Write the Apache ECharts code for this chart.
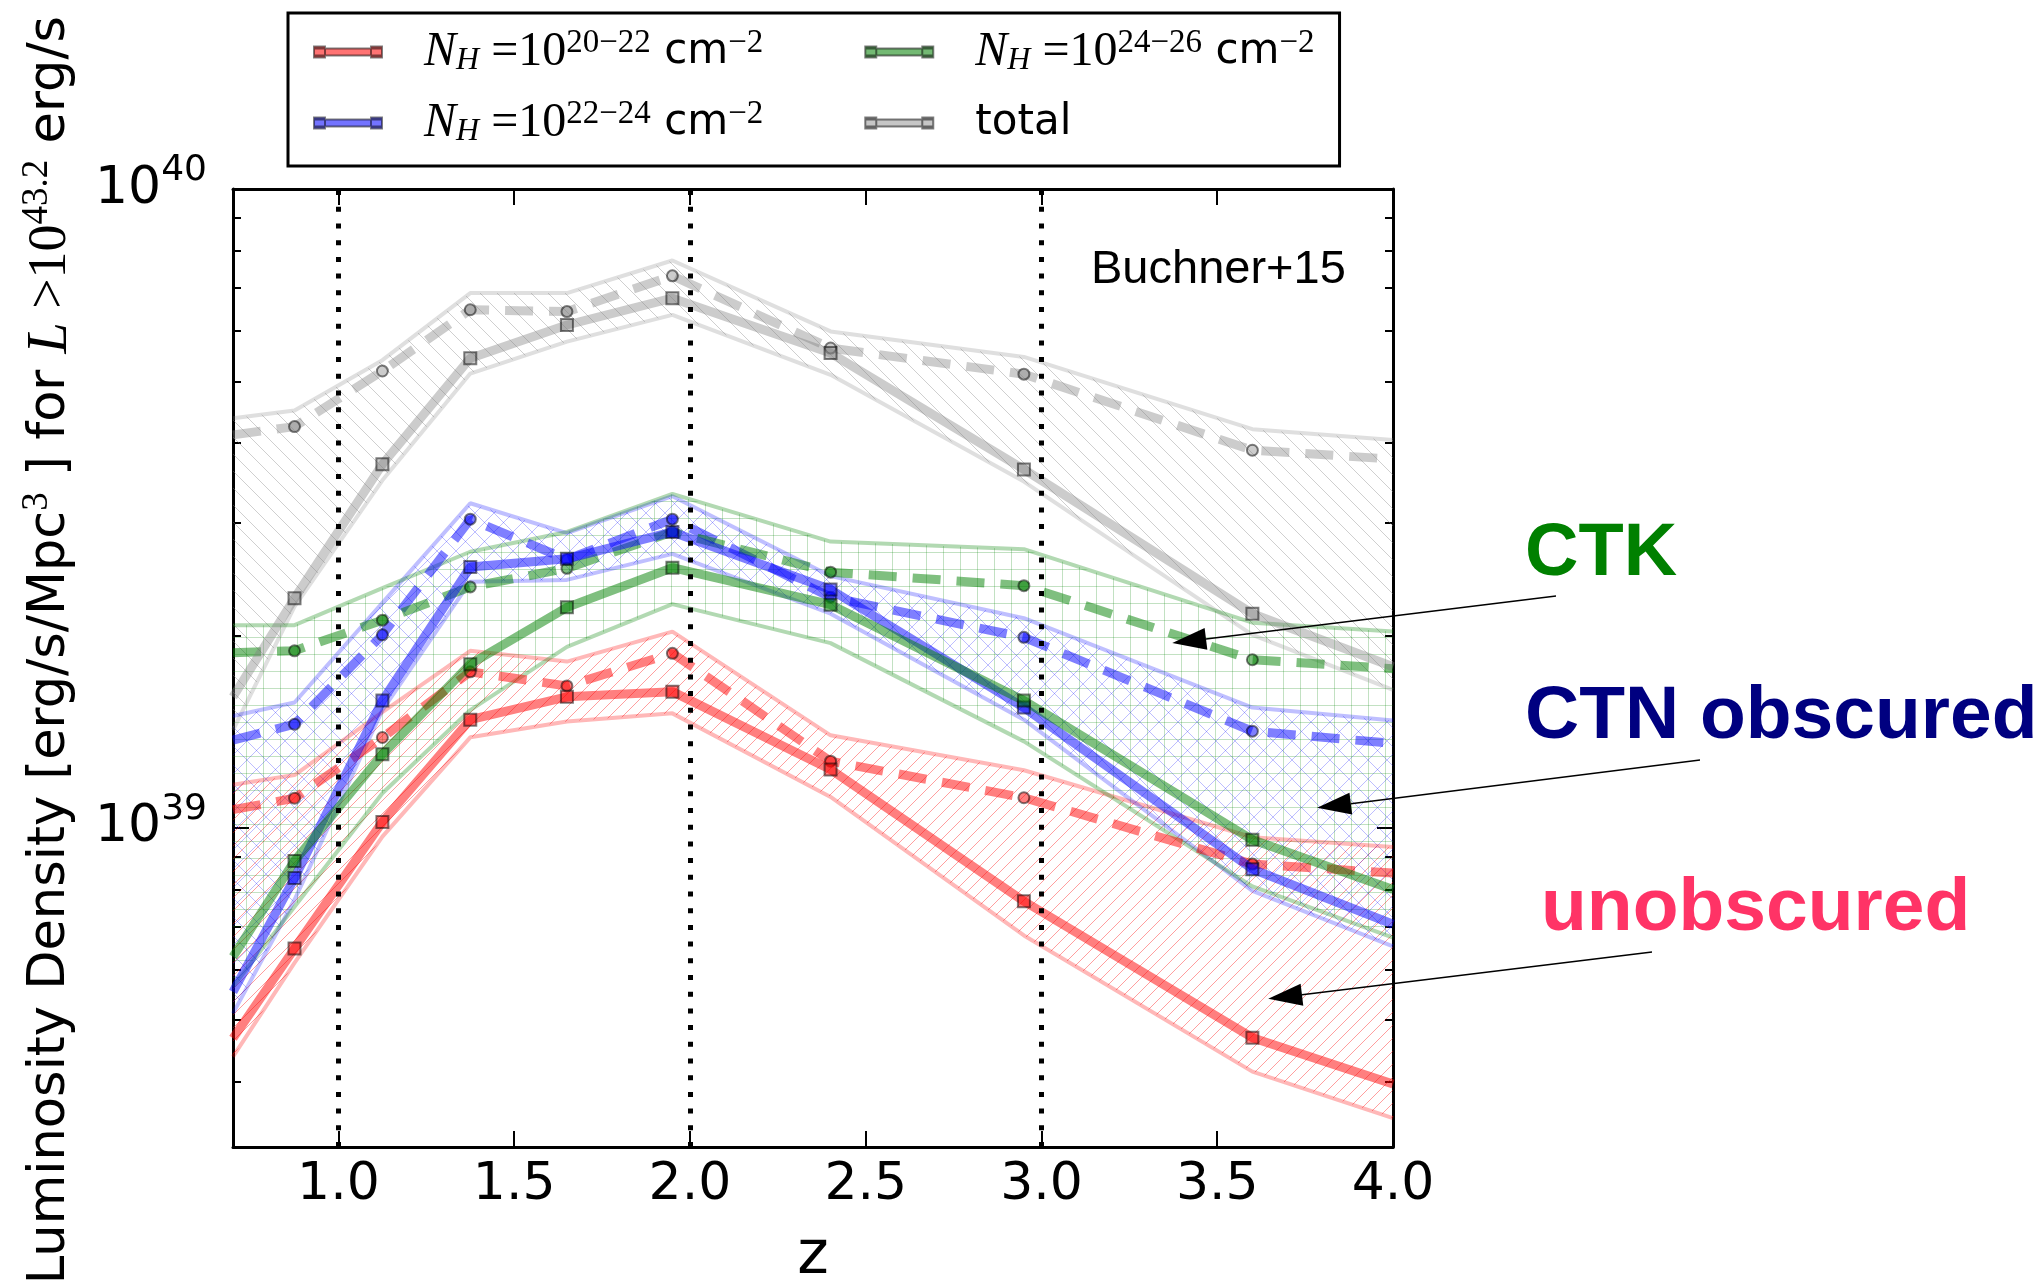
<!DOCTYPE html>
<html><head><meta charset="utf-8">
<script src="https://cdn.jsdelivr.net/npm/echarts@6/dist/echarts.min.js"></script>
<style>html,body{margin:0;padding:0;background:#fff;}#c{width:2044px;height:1280px;}</style>
</head><body><div id="c"></div>
<script>
// redshift positions (first / last = plot edges)
const z = [0.7, 0.875, 1.125, 1.375, 1.65, 1.95, 2.4, 2.95, 3.6, 4.0];
// luminosity density, units of 1e39 erg/s/Mpc^3
const redSolid  = [0.468, 0.647, 1.021, 1.476, 1.603, 1.633, 1.233, 0.767, 0.469, 0.397];
const redDash   = [1.067, 1.112, 1.384, 1.754, 1.667, 1.875, 1.271, 1.114, 0.877, 0.849];
const redUp     = [1.167, 1.209, 1.517, 1.892, 1.820, 2.028, 1.395, 1.230, 0.966, 0.933];
const redLo     = [0.438, 0.614, 0.968, 1.385, 1.466, 1.510, 1.117, 0.678, 0.415, 0.351];
const blueSolid = [0.553, 0.834, 1.581, 2.559, 2.636, 2.904, 2.360, 1.542, 0.861, 0.706];
const blueDash  = [1.371, 1.452, 2.004, 3.041, 2.630, 3.041, 2.296, 1.986, 1.416, 1.355];
const blueUp    = [1.496, 1.570, 2.249, 3.221, 2.891, 3.304, 2.477, 2.128, 1.542, 1.472];
const blueLo    = [0.512, 0.771, 1.528, 2.427, 2.443, 2.683, 2.163, 1.476, 0.796, 0.652];
const greenSolid= [0.628, 0.887, 1.303, 1.803, 2.213, 2.553, 2.234, 1.581, 0.957, 0.800];
const greenDash = [1.879, 1.892, 2.113, 2.382, 2.547, 2.904, 2.512, 2.393, 1.832, 1.774];
const greenUp   = [2.075, 2.075, 2.371, 2.704, 2.904, 3.331, 2.805, 2.729, 2.094, 2.028];
const greenLo   = [0.564, 0.752, 1.132, 1.528, 1.919, 2.239, 1.945, 1.365, 0.809, 0.673];
const greySolid = [1.603, 2.286, 3.707, 5.433, 6.124, 6.745, 5.534, 3.639, 2.163, 1.786];
const greyDash  = [4.121, 4.246, 5.188, 6.471, 6.427, 7.311, 5.636, 5.129, 3.899, 3.776];
const greyUp    = [4.375, 4.498, 5.395, 6.871, 6.871, 7.727, 5.984, 5.458, 4.207, 4.046];
const greyLo    = [1.422, 2.218, 3.499, 5.140, 5.768, 6.353, 5.117, 3.483, 2.004, 1.644];

const xTicks = [1.0, 1.5, 2.0, 2.5, 3.0, 3.5, 4.0];
const yMajor = [1e39, 1e40];
const yMinor = [4e38, 5e38, 6e38, 7e38, 8e38, 9e38, 2e39, 3e39, 4e39, 5e39, 6e39, 7e39, 8e39, 9e39];
const guideZ = [1, 2, 3];
const UNIT = 1e39;
const Y_MIN = Math.pow(10, 38.5), Y_MAX = 1e40;

function rgba(c, a) { return 'rgba(' + c[0] + ',' + c[1] + ',' + c[2] + ',' + a + ')'; }
function hatch(kind, s, color, lw) {
  const cv = document.createElement('canvas'); cv.width = s; cv.height = s;
  const g = cv.getContext('2d'); g.strokeStyle = color; g.lineWidth = lw; g.beginPath();
  if (kind === '/' || kind === 'x') { for (let k = -1; k <= 1; k++) { g.moveTo(k * s, s); g.lineTo(k * s + s, 0); } }
  if (kind === '\\' || kind === 'x') { for (let k = -1; k <= 1; k++) { g.moveTo(k * s, 0); g.lineTo(k * s + s, s); } }
  if (kind === '+') { g.moveTo(0, s / 2); g.lineTo(s, s / 2); g.moveTo(s / 2, 0); g.lineTo(s / 2, s); }
  g.stroke();
  return { image: cv, repeat: 'repeat' };
}
function pts(arr, marks) {
  return arr.map((v, i) => {
    const p = [z[i], v * UNIT];
    return (marks && (i === 0 || i === arr.length - 1)) ? { value: p, symbol: 'none' } : p;
  });
}

const comps = [
  { name: 'total', c: [128,128,128], a: 0.4, at: 0.25, solid: greySolid, dash: greyDash, up: greyUp, lo: greyLo, pat: hatch('\\', 17, 'rgba(128,128,128,0.38)', 1) },
  { name: 'NH 20-22', c: [255,0,0], a: 0.5, at: 0.28, solid: redSolid, dash: redDash, up: redUp, lo: redLo, pat: hatch('/', 13, 'rgba(255,0,0,0.38)', 1) },
  { name: 'NH 22-24', c: [0,0,255], a: 0.5, at: 0.25, solid: blueSolid, dash: blueDash, up: blueUp, lo: blueLo, pat: hatch('x', 19, 'rgba(0,0,255,0.26)', 1) },
  { name: 'NH 24-26', c: [0,128,0], a: 0.5, at: 0.3, solid: greenSolid, dash: greenDash, up: greenUp, lo: greenLo, pat: hatch('+', 17, 'rgba(0,128,0,0.24)', 1) }
];

const series = [];
comps.forEach(cp => {
  series.push({
    type: 'custom', name: cp.name + ' band', z: 1, silent: true, data: [[z[0], cp.lo[0] * UNIT]],
    renderItem: function (params, api) {
      const P = [];
      for (let i = 0; i < z.length; i++) P.push(api.coord([z[i], cp.up[i] * UNIT]));
      for (let i = z.length - 1; i >= 0; i--) P.push(api.coord([z[i], cp.lo[i] * UNIT]));
      return { type: 'polygon', shape: { points: P }, style: { fill: cp.pat, stroke: null } };
    }
  });
});
comps.forEach(cp => {
  [cp.up, cp.lo].forEach((arr, k) => series.push({
    type: 'line', name: cp.name + (k ? ' lo' : ' up'), z: 2, silent: true, showSymbol: false,
    lineStyle: { width: 4, color: rgba(cp.c, cp.at) }, data: pts(arr, false)
  }));
});
comps.forEach(cp => {
  series.push({
    type: 'line', name: cp.name + ' dashed', z: 3, silent: true, showSymbol: true, showAllSymbol: true,
    symbol: 'circle', symbolSize: 11,
    itemStyle: { color: rgba(cp.c, cp.a), borderColor: 'rgba(0,0,0,0.5)', borderWidth: 2 },
    lineStyle: { width: 9, color: rgba(cp.c, cp.a), type: [28, 16] }, data: pts(cp.dash, true)
  });
});
comps.forEach(cp => {
  series.push({
    type: 'line', name: cp.name, z: 4, silent: true, showSymbol: true, showAllSymbol: true,
    symbol: 'rect', symbolSize: 12,
    itemStyle: { color: rgba(cp.c, cp.a), borderColor: 'rgba(0,0,0,0.5)', borderWidth: 2 },
    lineStyle: { width: 9, color: rgba(cp.c, cp.a) }, data: pts(cp.solid, true)
  });
});
series.push({
  type: 'line', name: 'guides', data: [], z: 6, silent: true,
  markLine: { silent: true, animation: false, symbol: ['none', 'none'], label: { show: false },
    emphasis: { disabled: true },
    lineStyle: { color: '#000', width: 5, type: [5, 11.7], cap: 'butt', opacity: 1 },
    data: guideZ.map(v => ({ xAxis: v, lineStyle: { color: '#000', width: 5, type: [5, 11.7] } })) }
});

const LEG = {
  'NH 20-22': '{gap| }{it|N}{sub|H}{m| =10}{sup|20−22}{t| cm}{sup|−2}{pad| }',
  'NH 22-24': '{gap| }{it|N}{sub|H}{m| =10}{sup|22−24}{t| cm}{sup|−2}{pad| }',
  'NH 24-26': '{gap| }{it|N}{sub|H}{m| =10}{sup|24−26}{t| cm}{sup|−2}',
  'total': '{gap| }{t|total}'
};
const legIcon = 'path://M0,2H68V9H0Z M0,0H11V11H0Z M57,0H68V11H57Z';

const yBase = (pos, minor) => ({
  type: 'log', logBase: 10, min: Y_MIN, max: Y_MAX, position: pos, offset: 0,
  axisLine: { show: !minor, onZero: false, lineStyle: { color: '#000', width: 3 } },
  axisTick: { show: true, inside: true, length: minor ? 8 : 16, lineStyle: { color: '#000', width: 2 }, customValues: minor ? yMinor : yMajor },
  axisLabel: { show: false }, splitLine: { show: false }, minorTick: { show: false }
});
const yAxes = [yBase('left', false), yBase('left', true), yBase('right', false), yBase('right', true)];
yAxes[0].axisLabel = {
  show: true, customValues: yMajor, margin: 26,
  formatter: v => '{b|10}{s|' + Math.round(Math.log10(v)) + '}',
  rich: {
    b: { fontFamily: 'DejaVu Sans', fontSize: 52, lineHeight: 72, color: '#000' },
    s: { fontFamily: 'DejaVu Sans', fontSize: 36, lineHeight: 36, verticalAlign: 'top', color: '#000' }
  }
};
yAxes[0].name = '{sp| }{t|Luminosity Density [erg/s/Mpc}{sup|3}{t| ] for }{it|L}{m| >10}{sup|43.2}{t| erg/s}';
yAxes[0].nameLocation = 'middle';
yAxes[0].nameGap = 150;
yAxes[0].nameRotate = 90;
yAxes[0].nameTextStyle = {
  rich: {
    sp: { width: 36, fontSize: 20, lineHeight: 64 },
    t: { fontFamily: 'DejaVu Sans', fontSize: 51, lineHeight: 64, color: '#000' },
    sup: { fontFamily: 'Liberation Serif', fontSize: 37, lineHeight: 36, verticalAlign: 'top', color: '#000' },
    it: { fontFamily: 'Liberation Serif', fontStyle: 'italic', fontSize: 56, lineHeight: 64, color: '#000' },
    m: { fontFamily: 'Liberation Serif', fontSize: 54, lineHeight: 64, color: '#000' }
  }
};

const xBase = (pos, labels) => ({
  type: 'value', min: 0.7, max: 4.0, position: pos,
  axisLine: { show: true, onZero: false, lineStyle: { color: '#000', width: 3 } },
  axisTick: { show: true, inside: true, length: 16, lineStyle: { color: '#000', width: 2 }, customValues: xTicks },
  axisLabel: labels ? { show: true, customValues: xTicks, formatter: v => v.toFixed(1), margin: 12,
      fontFamily: 'DejaVu Sans', fontSize: 52, lineHeight: 52, color: '#000' } : { show: false },
  splitLine: { show: false }
});
const xAxes = [xBase('bottom', true), xBase('top', false)];
xAxes[0].name = 'z';
xAxes[0].nameLocation = 'middle';
xAxes[0].nameGap = 80;
xAxes[0].nameTextStyle = { fontFamily: 'DejaVu Sans', fontSize: 60, lineHeight: 60, color: '#000' };

const titleStyle = (size, weight, color) => ({ fontFamily: 'Liberation Sans', fontSize: size, lineHeight: size, fontWeight: weight, color: color });

const chart = echarts.init(document.getElementById('c'), null, { renderer: 'canvas', width: 2044, height: 1280 });
chart.setOption({
  animation: false,
  backgroundColor: '#fff',
  grid: { left: 233, top: 189, width: 1160, height: 958, containLabel: false, outerBoundsMode: 'none' },
  title: [
    { text: 'Buchner+15', left: 1091, top: 247, padding: 0, textStyle: titleStyle(47, 'normal', '#000') },
    { text: 'CTK', left: 1525, top: 518, padding: 0, textStyle: titleStyle(74, 'bold', '#008000') },
    { text: 'CTN obscured', left: 1525, top: 680, padding: 0, textStyle: titleStyle(75, 'bold', '#000080') },
    { text: 'unobscured', left: 1541, top: 872, padding: 0, textStyle: titleStyle(75, 'bold', '#ff3366') }
  ],
  legend: {
    data: [
      { name: 'NH 20-22', itemStyle: { color: 'rgba(255,0,0,0.55)' } },
      { name: 'NH 24-26', itemStyle: { color: 'rgba(0,128,0,0.55)' } },
      { name: 'NH 22-24', itemStyle: { color: 'rgba(0,0,255,0.55)' } },
      { name: 'total', itemStyle: { color: 'rgba(128,128,128,0.45)' } }
    ],
    formatter: n => LEG[n],
    orient: 'horizontal', left: 288, top: 13, width: 1060,
    padding: [14, 25, 18, 25], itemGap: 21, itemWidth: 68, itemHeight: 11,
    icon: legIcon, selectedMode: false,
    backgroundColor: '#fff', borderColor: '#000', borderWidth: 3, borderRadius: 0,
    textStyle: {
      color: '#000',
      rich: {
        gap: { width: 37, fontSize: 20, lineHeight: 50 },
        pad: { width: 80, fontSize: 20, lineHeight: 50 },
        it: { fontFamily: 'Liberation Serif', fontStyle: 'italic', fontSize: 48, lineHeight: 50, color: '#000' },
        sub: { fontFamily: 'Liberation Serif', fontStyle: 'italic', fontSize: 32, lineHeight: 20, verticalAlign: 'bottom', color: '#000' },
        m: { fontFamily: 'Liberation Serif', fontSize: 48, lineHeight: 50, color: '#000' },
        sup: { fontFamily: 'Liberation Serif', fontSize: 33, lineHeight: 28, verticalAlign: 'top', color: '#000' },
        t: { fontFamily: 'DejaVu Sans', fontSize: 42, lineHeight: 50, color: '#000' }
      }
    }
  },
  xAxis: xAxes,
  yAxis: yAxes,
  series: series
});

// annotation arrows: tail in pixels, tip in data space
const arrows = [
  { tail: [1556, 596], tip: [3.372, Math.pow(10, 39.289)] },
  { tail: [1700, 760], tip: [3.784, Math.pow(10, 39.031)] },
  { tail: [1652, 952], tip: [3.645, Math.pow(10, 38.732)] }
];
const gfx = [];
arrows.forEach(a => {
  const tip = chart.convertToPixel({ xAxisIndex: 0, yAxisIndex: 0 }, a.tip);
  const dx = tip[0] - a.tail[0], dy = tip[1] - a.tail[1], L = Math.hypot(dx, dy);
  const ux = dx / L, uy = dy / L, hl = 34, hw = 11;
  const bx = tip[0] - ux * hl, by = tip[1] - uy * hl;
  gfx.push({ type: 'line', silent: true, z: 100, shape: { x1: a.tail[0], y1: a.tail[1], x2: bx, y2: by }, style: { stroke: '#000', lineWidth: 1.5 } });
  gfx.push({ type: 'polygon', silent: true, z: 100, shape: { points: [tip, [bx - uy * hw, by + ux * hw], [bx + uy * hw, by - ux * hw]] }, style: { fill: '#000' } });
});
chart.setOption({ graphic: gfx });
</script></body></html>
